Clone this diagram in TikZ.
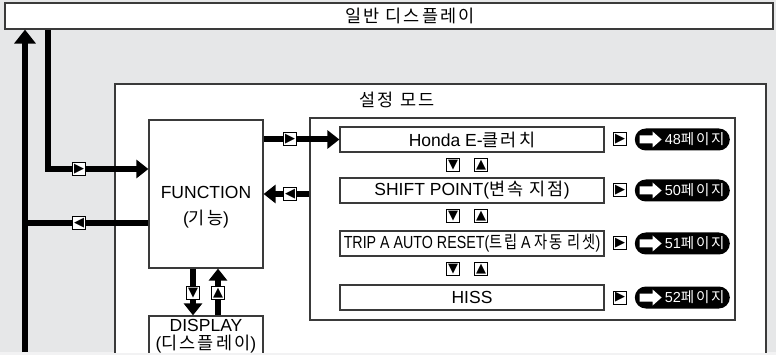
\documentclass[tikz,border=0pt]{standalone}
\usepackage{fontspec}
\usepackage{graphicx}
\setmainfont{Liberation Sans}
\newfontfamily\krfont[Scale=1.0,LetterSpace=12]{Noto Sans CJK KR}
\newfontfamily\symfont{DejaVu Sans}
\newcommand\kor[1]{{\krfont #1}}
\usetikzlibrary{arrows.meta,positioning}
\definecolor{panelgray}{HTML}{E6E7E8}
\definecolor{pagegray}{HTML}{F2F2F3}
\definecolor{rim}{HTML}{3A3A3A}

\begin{document}
\begin{tikzpicture}[x=1pt,y=-1pt,
  font=\fontsize{17.5}{20}\selectfont,
  box/.style={draw=rim,line width=1.2pt,fill=white,inner sep=0pt},
  item/.style={box,minimum width=264pt,minimum height=25pt},
  key/.style={draw=black,line width=1pt,fill=white,minimum size=13pt,inner sep=0pt,
    font=\symfont\fontsize{13}{13}\selectfont},
  pill/.style={fill=black,rounded corners=11pt,minimum width=95pt,minimum height=22pt,inner sep=0pt},
  bar/.style={line width=6pt},
  conn/.style={bar,-{Triangle[length=12pt,width=18pt]}},
  lab/.style={inner sep=0pt}]
  \useasboundingbox (0,0) rectangle (776,355);
  \fill[pagegray] (0,0) rectangle (776,355);
  \fill[panelgray] (0,0) rectangle (776,352);
  % normal display bar across the top, its title sits right of centre
  \node[box,minimum width=768pt,minimum height=26pt] (normal) at (389,16) {};
  \node[lab] (normaltext) at (410,16) {\kor{일반 디스플레이}};
  % setting mode frame and the DISPLAY box run off the lower edge
  \begin{scope}
    \clip (0,0) rectangle (776,352);
    \draw[rim,line width=1.2pt,fill=white] (115,360) -- (115,84) -- (766,84) -- (766,360);
    \node[lab] (modetitle) at (397,100) {\kor{설정 모드}};
    \node[box,minimum width=114pt,minimum height=148pt] (func) at (206,194) {};
    \node[lab,align=center] (functext) at (206,207) {FUNCTION\\[6pt](\kor{기능})};
    \node[box,minimum width=114pt,minimum height=60pt] (display) at (206,346) {};
    \node[lab,align=center] (displaytext) at (206,336) {DISPLAY\\[-2pt](\kor{디스플레이})};
  \end{scope}
  % the menu items
  \node[box,minimum width=425pt,minimum height=202pt] (panel) at (522.5,219) {};
  \node[item] (honda) at (472,139.5) {Honda E-\kor{클러치}};
  \node[item] (shift) at (472,190.5) {SHIFT POINT(\kor{변속 지점})};
  \node[item] (trip) at (472,243.5) {\scalebox{0.815}[1]{TRIP A AUTO RESET(\kor{트립} A \kor{자동 리셋})}};
  \node[item] (hiss) at (472,297.5) {HISS};
  \foreach \name/\page in {honda/48,shift/50,trip/51,hiss/52} {
    \node[key,right=8.5pt of \name] (go\name) {▶};
    \node[pill,right=7.5pt of go\name] (pg\name) {};
    \fill[white,shift={(pg\name.west)}] (5,-4) -- (18,-4) -- (18,-8) -- (27,0) -- (18,8) -- (18,4) -- (5,4) -- cycle;
    \node[lab,text=white,font=\fontsize{14.5}{14.5}\selectfont,right=30pt of pg\name.west] (pt\name) {\page\kor{페이지}};
  }
  \foreach \y [count=\i] in {165,216,269} {
    \node[key] (dn\i) at (453,\y) {▼};
    \node[key] (up\i) at (481,\y) {▲};
  }
  % connectors
  \coordinate (rail) at (25,352);
  \coordinate (drop) at (48,169);
  \coordinate (back) at (25,223);
  \coordinate (dl) at (193,0);
  \coordinate (ul) at (218,0);
  \draw[conn,-{Triangle[length=14pt,width=21pt]}] (rail) -- (normal.south -| rail);
  \draw[conn] (normal.south -| drop) -- (drop) -- (func.west |- drop);
  \draw[bar] (func.west |- back) -- (back);
  \draw[conn] (func.east |- honda.west) -- (honda.west);
  \draw[conn] (panel.west |- func.east) -- (func.east);
  \draw[conn] (func.south -| dl) -- (display.north -| dl);
  \draw[conn] (display.north -| ul) -- (func.south -| ul);
  \node[key] (kdrop) at (79,169) {▶};
  \node[key] (kback) at (79,223) {◀};
  \node[key] (kin) at (290,139.5) {▶};
  \node[key] (kout) at (290,194) {◀};
  \node[key] (kdown) at (193,293) {▼};
  \node[key] (kup) at (218,293) {▲};
\end{tikzpicture}
\end{document}
